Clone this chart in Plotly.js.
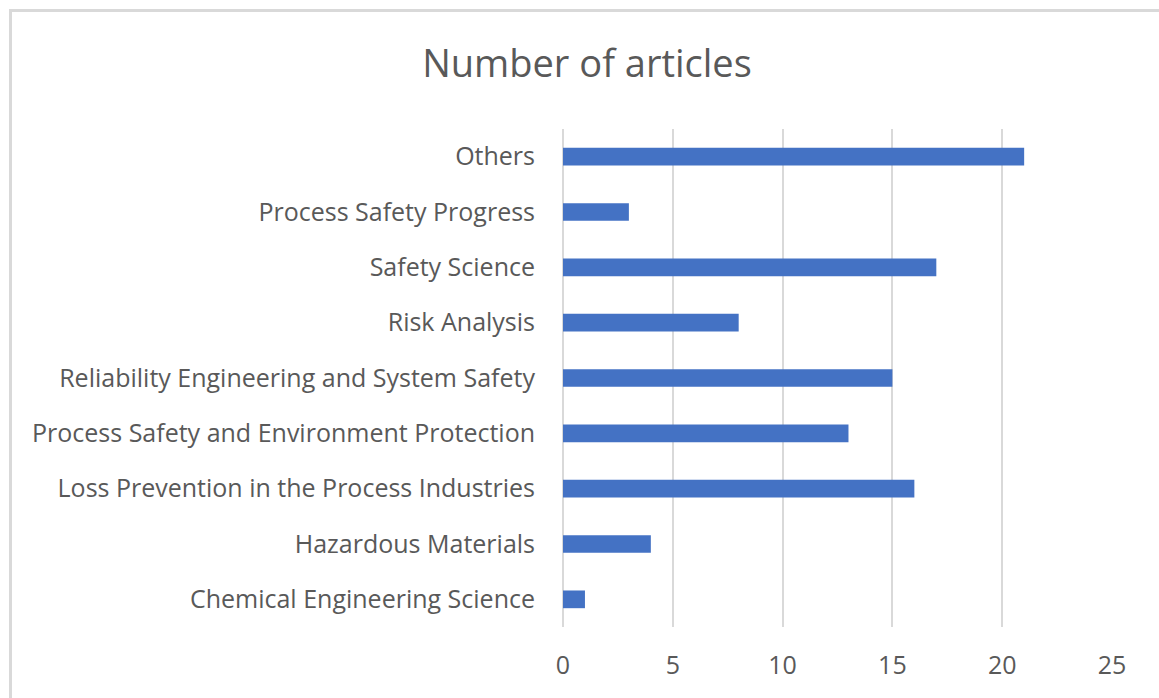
<!DOCTYPE html>
<html>
<head>
<meta charset="utf-8">
<script src="https://cdn.plot.ly/plotly-3.0.1.min.js"></script>
<style>
  html, body { margin: 0; padding: 0; background: #fff; overflow: hidden; }
  #frame { position: absolute; left: 9px; top: 9px; width: 1300px; height: 800px;
           border-left: 3px solid #d9d9d9; border-top: 3px solid #d9d9d9; }
  #chart { position: absolute; left: 0; top: 0; width: 1159px; height: 698px; }
</style>
</head>
<body>
<div id="frame"></div>
<div id="chart"></div>
<script>
const categories = [
  "Others",
  "Process Safety Progress",
  "Safety Science",
  "Risk Analysis",
  "Reliability Engineering and System Safety",
  "Process Safety and Environment Protection",
  "Loss Prevention in the Process Industries",
  "Hazardous Materials",
  "Chemical Engineering Science"
];
const articles = [21, 3, 17, 8, 15, 13, 16, 4, 1];
const xTicks = [0, 5, 10, 15, 20, 25];

const textColor = "#595959";
const fontFam = "'Open Sans', 'Noto Sans', sans-serif";

const trace = {
  type: "bar",
  orientation: "h",
  x: articles,
  y: categories,
  width: 0.32,
  marker: { color: "#4472C4" },
  hoverinfo: "x+y"
};

const layout = {
  width: 1159,
  height: 698,
  paper_bgcolor: "rgba(0,0,0,0)",
  plot_bgcolor: "rgba(0,0,0,0)",
  margin: { l: 563, r: 47, t: 129, b: 71 },
  showlegend: false,
  title: {
    text: "Number of articles",
    font: { family: fontFam, size: 38, color: textColor },
    x: 587 / 1159, xref: "container", xanchor: "center",
    y: 1 - 64 / 698, yref: "container", yanchor: "middle"
  },
  xaxis: {
    range: [0, 25],
    tickvals: xTicks,
    ticktext: xTicks.map(String),
    showgrid: true,
    gridcolor: "#d9d9d9",
    gridwidth: 2,
    zeroline: true,
    zerolinecolor: "#d9d9d9",
    zerolinewidth: 2,
    showline: false,
    ticks: "outside",
    ticklen: 16,
    tickcolor: "rgba(0,0,0,0)",
    tickfont: { family: fontFam, size: 25, color: textColor },
    fixedrange: true
  },
  yaxis: {
    type: "category",
    autorange: "reversed",
    showgrid: false,
    zeroline: false,
    showline: false,
    ticks: "outside",
    ticklen: 22,
    tickcolor: "rgba(0,0,0,0)",
    tickfont: { family: fontFam, size: 25, color: textColor },
    fixedrange: true
  }
};

Plotly.newPlot("chart", [trace], layout, { displayModeBar: false, staticPlot: true });
</script>
</body>
</html>
